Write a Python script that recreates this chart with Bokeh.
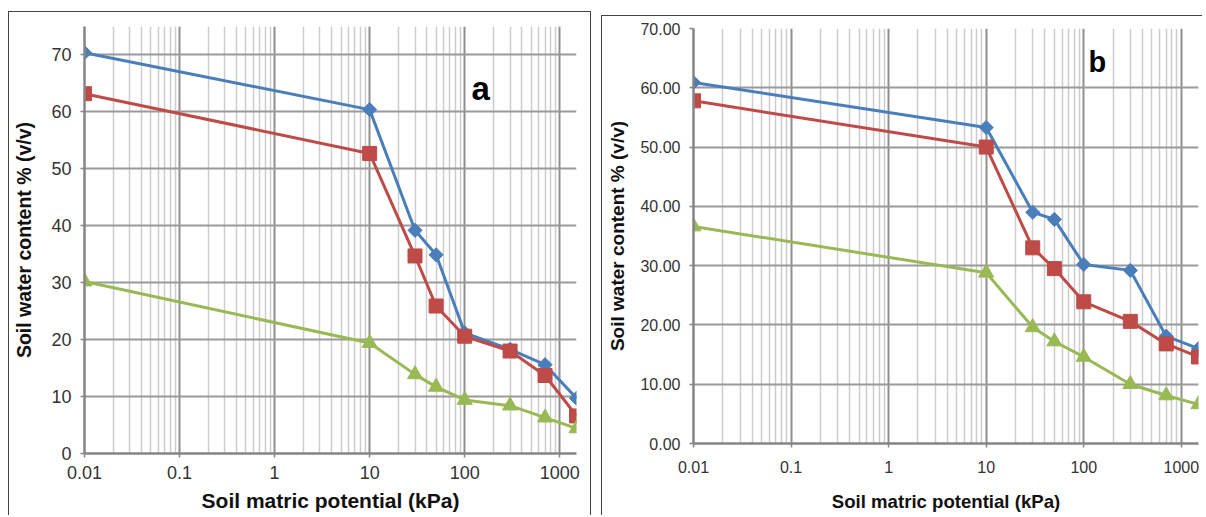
import math
from bokeh.plotting import figure
from bokeh.layouts import row, column
from bokeh.models import FixedTicker, Label, NumeralTickFormatter, Range1d, Spacer
from bokeh.embed import file_html
from bokeh.resources import INLINE

# ---- data ----
x_kpa = [0.01, 10, 30, 50, 100, 300, 700, 1500]
a_blue = [70.4, 60.4, 39.2, 34.9, 21.2, 18.3, 15.6, 9.7]
a_red = [63.2, 52.7, 34.7, 25.9, 20.6, 18.0, 13.7, 6.6]
a_green = [30.2, 19.4, 13.9, 11.7, 9.4, 8.4, 6.3, 4.4]
b_blue = [60.9, 53.3, 39.0, 37.8, 30.2, 29.2, 18.1, 16.0]
b_red = [57.8, 50.0, 33.0, 29.5, 23.9, 20.6, 16.8, 14.6]
b_green = [36.6, 28.8, 19.6, 17.2, 14.6, 10.0, 8.1, 6.6]
x_ticks = [0.01, 0.1, 1, 10, 100, 1000]
x_tick_labels = ["0.01", "0.1", "1", "10", "100", "1000"]
a_y_ticks = [0, 10, 20, 30, 40, 50, 60, 70]
b_y_ticks = [0, 10, 20, 30, 40, 50, 60, 70]
panel_letters = ["a", "b"]

BLUE = "#4a7ebb"
RED = "#be4b48"
GREEN = "#98b954"
FONT = "Liberation Sans"

minor = [m * 10 ** e for e in range(-2, 4) for m in range(2, 10)]


def make_panel(blue, red, green, ymax, yticks, width, height, mb, style,
               ylab_fmt, tick_size, xlab_size, ylab_size,
               x_std, x_lab_std, y_std, y_lab_std):
    left, right, top, bottom = mb
    p = figure(width=width, height=height, x_axis_type="log",
               x_range=Range1d(0.01, 1500), y_range=Range1d(0, ymax),
               output_backend="svg", toolbar_location=None,
               min_border_left=left, min_border_right=right,
               min_border_top=top, min_border_bottom=bottom,
               styles=style)
    p.background_fill_color = "white"
    p.border_fill_color = "white"
    p.outline_line_color = None

    p.xaxis.ticker = FixedTicker(ticks=x_ticks, minor_ticks=minor)
    p.xaxis.major_label_overrides = {t: l for t, l in zip(x_ticks, x_tick_labels)}
    p.yaxis.ticker = FixedTicker(ticks=yticks)
    if ylab_fmt:
        p.yaxis.formatter = NumeralTickFormatter(format=ylab_fmt)

    for ax in (p.xaxis[0], p.yaxis[0]):
        ax.axis_line_color = "#858585"
        ax.axis_line_width = 2.5
        ax.major_tick_line_color = "#858585"
        ax.major_tick_line_width = 1.5
        ax.major_tick_out = 4
        ax.major_tick_in = 0
        ax.minor_tick_line_color = None
        ax.major_label_text_font = FONT
        ax.major_label_text_font_size = tick_size
        ax.major_label_text_color = "#333333"
        ax.axis_label_text_font = FONT
        ax.axis_label_text_font_style = "bold"
        ax.axis_label_text_color = "#111111"
    p.xaxis.axis_label_text_font_size = xlab_size
    p.yaxis.axis_label_text_font_size = ylab_size
    p.xaxis.axis_label = "Soil matric potential (kPa)"
    p.yaxis.axis_label = "Soil water content % (v/v)"
    p.xaxis.major_label_standoff = x_std
    p.yaxis.major_label_standoff = y_std
    p.xaxis.axis_label_standoff = x_lab_std
    p.yaxis.axis_label_standoff = y_lab_std

    p.xgrid.grid_line_color = "#8f8f8f"
    p.xgrid.grid_line_width = 2
    p.xgrid.minor_grid_line_color = "#cccccc"
    p.xgrid.minor_grid_line_width = 1.5
    p.ygrid.grid_line_color = "#9a9a9a"
    p.ygrid.grid_line_width = 2

    p.line(x_kpa, blue, line_color=BLUE, line_width=3)
    p.scatter(x_kpa, blue, marker="square", angle=math.pi / 4, size=10,
              fill_color=BLUE, line_color=BLUE)
    p.line(x_kpa, red, line_color=RED, line_width=3)
    p.scatter(x_kpa, red, marker="square", size=14, fill_color=RED, line_color=RED)
    p.line(x_kpa, green, line_color=GREEN, line_width=3)
    p.scatter(x_kpa, green, marker="triangle", size=15, fill_color=GREEN, line_color=GREEN)
    return p


pa = make_panel(a_blue, a_red, a_green, 75, a_y_ticks, 583, 504,
                (75, 16, 14, 63),
                {"border-left": "1px solid #444", "border-top": "1px solid #444",
                 "border-right": "1px solid #444"},
                None, "18px", "21px", "19.5px", 8, 7, 9, 13)
pa.add_layout(Label(x=147, y=64.1, text=panel_letters[0], text_font=FONT,
                    text_font_style="bold", text_font_size="33px",
                    text_align="center", text_baseline="middle", text_color="black"))

pb = make_panel(b_blue, b_red, b_green, 70, b_y_ticks, 601, 500,
                (91, 5, 12, 73),
                {"border-left": "1px solid #444", "border-top": "1px solid #444"},
                "0.00", "16px", "18.6px", "19px", 13, 15, 9, 9)
pb.add_layout(Label(x=138, y=64.3, text=panel_letters[1], text_font=FONT,
                    text_font_style="bold", text_font_size="29px",
                    text_align="center", text_baseline="middle", text_color="black"))

layout = row(Spacer(width=8), column(Spacer(height=11), pa),
             Spacer(width=10), column(Spacer(height=15), pb))
open("out.html", "w").write(file_html(layout, INLINE))
